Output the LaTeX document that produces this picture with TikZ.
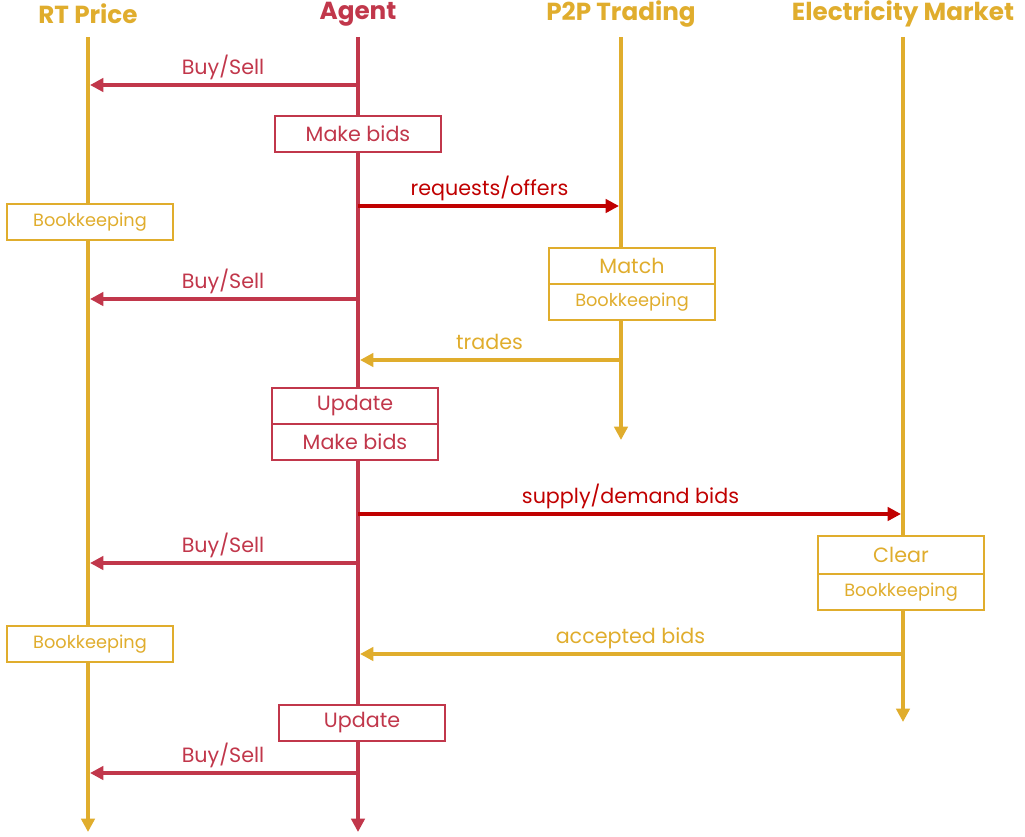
\documentclass[tikz,border=0pt]{standalone}
\usepackage{fontspec}
\setmainfont{Poppins}
\usetikzlibrary{arrows.meta, positioning}
\definecolor{gold}{HTML}{E0AD2D}
\definecolor{crimson}{HTML}{C1374B}
\definecolor{brightred}{HTML}{C00000}

\begin{document}
\begin{tikzpicture}[
  x=0.75pt, y=-0.75pt,
  >={Triangle[length=10pt, width=10pt]},
  font=\fontsize{15.5}{18}\selectfont,
  title/.style={font=\fontsize{18.5}{22}\selectfont\bfseries, minimum height=34pt, inner sep=0pt},
  life/.style={->, line width=3pt},
  msg/.style={->, line width=3pt, shorten >=1.5pt},
  lbl/.style={above, text depth=0.3em, inner sep=3.5pt},
  box/.style={
    rectangle,
    draw, line width=1.5pt,
    fill=white,
    outer sep=0pt, inner sep=0pt,
    minimum width=125pt, minimum height=27pt
  },
  small/.style={font=\fontsize{13.3}{16}\selectfont}
]
\useasboundingbox (0,0) rectangle (1025,836);

% Titles
\node[title, text=gold] (rt) at (88,14) {RT Price};
\node[title, text=crimson] (agent) at (358,14) {Agent};
\node[title, text=gold] (p2p) at (621,14) {P2P Trading};
\node[title, text=gold] (market) at (903,14) {Electricity Market};

% Lifelines
\coordinate (rtend) at (88,832);
\coordinate (agentend) at (358,832);
\coordinate (p2pend) at (621,440);
\coordinate (marketend) at (903,722);
\draw[life, gold] (rt) -- (rtend);
\draw[life, crimson] (agent) -- (agentend);
\draw[life, gold] (p2p) -- (p2pend);
\draw[life, gold] (market) -- (marketend);

% Boxes
\node[box, draw=crimson, text=crimson] (bids1) at (358,134) {Make bids};
\node[box, draw=gold, text=gold, small] (book1) at (90,222) {Bookkeeping};
\node[box, draw=gold, text=gold] (match) at (632,266) {Match};
\node[box, draw=gold, text=gold, small, below=0pt of match] (book2) {Bookkeeping};
\node[box, draw=crimson, text=crimson] (update1) at (355,406) {Update};
\node[box, draw=crimson, text=crimson, below=0pt of update1] (bids2) {Make bids};
\node[box, draw=gold, text=gold, minimum height=28pt] (clear) at (901,555) {Clear};
\node[box, draw=gold, text=gold, small, below=0pt of clear] (book3) {Bookkeeping};
\node[box, draw=gold, text=gold, small] (book4) at (90,644) {Bookkeeping};
\node[box, draw=crimson, text=crimson] (update2) at (362,723) {Update};

% Message levels
\coordinate (y1) at (0,85);
\coordinate (y2) at (0,206);
\coordinate (y3) at (0,299);
\coordinate (y4) at (0,360);
\coordinate (y5) at (0,514);
\coordinate (y6) at (0,563);
\coordinate (y7) at (0,654);
\coordinate (y8) at (0,773);

% Messages
\draw[msg, crimson] (agent |- y1) -- node[lbl, text=crimson] {Buy/Sell} (rt |- y1);
\draw[msg, brightred] (agent |- y2) -- node[lbl, text=brightred] {requests/offers} (p2p |- y2);
\draw[msg, crimson] (agent |- y3) -- node[lbl, text=crimson] {Buy/Sell} (rt |- y3);
\draw[msg, gold] (p2p |- y4) -- node[lbl, text=gold] {trades} (agent |- y4);
\draw[msg, brightred] (agent |- y5) -- node[lbl, text=brightred] {supply/demand bids} (market |- y5);
\draw[msg, crimson] (agent |- y6) -- node[lbl, text=crimson] {Buy/Sell} (rt |- y6);
\draw[msg, gold] (market |- y7) -- node[lbl, text=gold] {accepted bids} (agent |- y7);
\draw[msg, crimson] (agent |- y8) -- node[lbl, text=crimson] {Buy/Sell} (rt |- y8);

\end{tikzpicture}
\end{document}
